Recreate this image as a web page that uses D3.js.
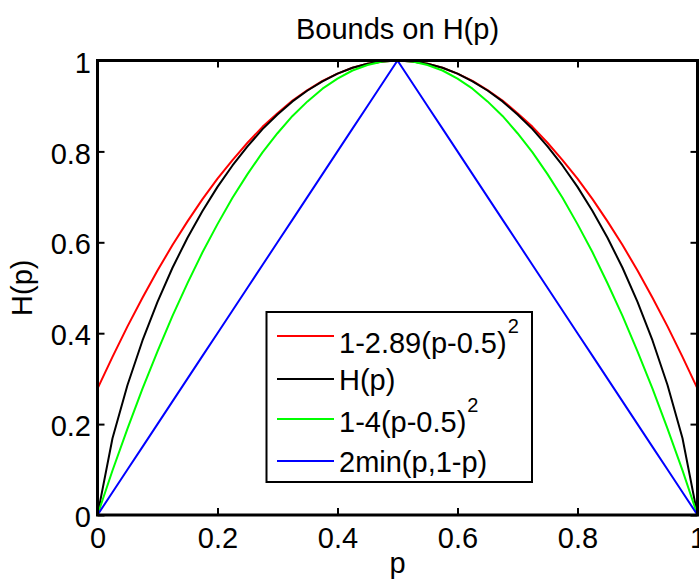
<!DOCTYPE html>
<html>
<head>
<meta charset="utf-8">
<script src="https://cdn.jsdelivr.net/npm/d3@7"></script>
<style>
  body { margin: 0; background: #fff; }
  svg { display: block; font-family: "Liberation Sans", Arial, Helvetica, sans-serif; }
  .axis text { font-size: 29px; fill: #000; }
  .axis line { stroke: #000; stroke-width: 2px; }
  .axis path { display: none; }
</style>
</head>
<body>
<svg id="chart" width="699" height="582"></svg>
<script>
// p values along the x axis
var pVals = [0, 0.025, 0.05, 0.075, 0.1, 0.125, 0.15, 0.175, 0.2, 0.225, 0.25, 0.275, 0.3, 0.325, 0.35, 0.375, 0.4, 0.425, 0.45, 0.475, 0.5,
  0.525, 0.55, 0.575, 0.6, 0.625, 0.65, 0.675, 0.7, 0.725, 0.75, 0.775, 0.8, 0.825, 0.85, 0.875, 0.9, 0.925, 0.95, 0.975, 1];

// series
var redVals = [0.278, 0.348, 0.415, 0.478, 0.538, 0.594, 0.646, 0.695, 0.740, 0.781, 0.819, 0.854, 0.884, 0.912, 0.935, 0.955, 0.971, 0.984, 0.993, 0.998, 1,
  0.998, 0.993, 0.984, 0.971, 0.955, 0.935, 0.912, 0.884, 0.854, 0.819, 0.781, 0.740, 0.695, 0.646, 0.594, 0.538, 0.478, 0.415, 0.348, 0.278];
var blackVals = [0, 0.169, 0.286, 0.384, 0.469, 0.544, 0.610, 0.669, 0.722, 0.769, 0.811, 0.849, 0.881, 0.910, 0.934, 0.954, 0.971, 0.984, 0.993, 0.998, 1,
  0.998, 0.993, 0.984, 0.971, 0.954, 0.934, 0.910, 0.881, 0.849, 0.811, 0.769, 0.722, 0.669, 0.610, 0.544, 0.469, 0.384, 0.286, 0.169, 0];
var greenVals = [0, 0.098, 0.190, 0.278, 0.360, 0.438, 0.510, 0.578, 0.640, 0.698, 0.750, 0.798, 0.840, 0.878, 0.910, 0.938, 0.960, 0.978, 0.990, 0.998, 1,
  0.998, 0.990, 0.978, 0.960, 0.938, 0.910, 0.878, 0.840, 0.798, 0.750, 0.698, 0.640, 0.578, 0.510, 0.438, 0.360, 0.278, 0.190, 0.098, 0];
var blueVals = [0, 0.05, 0.1, 0.15, 0.2, 0.25, 0.3, 0.35, 0.4, 0.45, 0.5, 0.55, 0.6, 0.65, 0.7, 0.75, 0.8, 0.85, 0.9, 0.95, 1,
  0.95, 0.9, 0.85, 0.8, 0.75, 0.7, 0.65, 0.6, 0.55, 0.5, 0.45, 0.4, 0.35, 0.3, 0.25, 0.2, 0.15, 0.1, 0.05, 0];

var seriesNames = [["1-2.89(p-0.5)", "2"], ["H(p)", ""], ["1-4(p-0.5)", "2"], ["2min(p,1-p)", ""]];
var seriesColors = ["#ff0000", "#000000", "#00ff00", "#0000ff"];
var xTicks = [0, 0.2, 0.4, 0.6, 0.8, 1];
var yTicks = [0, 0.2, 0.4, 0.6, 0.8, 1];

var svg = d3.select("#chart");
var axLeft = 97.5, axRight = 697.5, axTop = 60.5, axBottom = 515;

var x = d3.scaleLinear().domain([0, 1]).range([axLeft, axRight]);
var y = d3.scaleLinear().domain([0, 1]).range([axBottom, axTop]);

var series = [redVals, blackVals, greenVals, blueVals];

// curves
var line = d3.line()
  .x(function(d, i) { return x(pVals[i]); })
  .y(function(d) { return y(d); });

series.forEach(function(vals, k) {
  svg.append("path")
    .datum(vals)
    .attr("fill", "none")
    .attr("stroke", seriesColors[k])
    .attr("stroke-width", 2)
    .attr("stroke-linejoin", "round")
    .attr("d", line);
});

// axes, ticks pointing inward
svg.append("g").attr("class", "axis")
  .attr("transform", "translate(0," + axBottom + ")")
  .call(d3.axisBottom(x).tickValues(xTicks).tickFormat(d3.format("")).tickSizeInner(-7).tickSizeOuter(0).tickPadding(12));
svg.append("g").attr("class", "axis")
  .attr("transform", "translate(0," + axTop + ")")
  .call(d3.axisTop(x).tickValues(xTicks).tickFormat("").tickSizeInner(-7).tickSizeOuter(0));
var yg = svg.append("g").attr("class", "axis")
  .attr("transform", "translate(" + axLeft + ",0)")
  .call(d3.axisLeft(y).tickValues(yTicks).tickFormat(d3.format("")).tickSizeInner(-7).tickSizeOuter(0).tickPadding(6.5));
yg.selectAll("text").attr("dy", "0.4em");
svg.append("g").attr("class", "axis")
  .attr("transform", "translate(" + axRight + ",0)")
  .call(d3.axisRight(y).tickValues(yTicks).tickFormat("").tickSizeInner(-7).tickSizeOuter(0));

// box
svg.append("rect")
  .attr("x", axLeft).attr("y", axTop)
  .attr("width", axRight - axLeft).attr("height", axBottom - axTop)
  .attr("fill", "none").attr("stroke", "#000").attr("stroke-width", 3);

// title and axis labels
svg.append("text").attr("x", (axLeft + axRight) / 2).attr("y", 39)
  .attr("text-anchor", "middle").style("font-size", "29px").text("Bounds on H(p)");
svg.append("text").attr("x", (axLeft + axRight) / 2).attr("y", 573)
  .attr("text-anchor", "middle").style("font-size", "29px").text("p");
svg.append("text").attr("transform", "translate(32," + (axTop + axBottom) / 2 + ") rotate(-90)")
  .attr("text-anchor", "middle").style("font-size", "29px").text("H(p)");

// legend
var legendTop = 312, legendLeft = 266.5, legendW = 265.5, legendH = 170;
var legend = svg.append("g");
legend.append("rect")
  .attr("x", legendLeft).attr("y", legendTop)
  .attr("width", legendW).attr("height", legendH)
  .attr("fill", "#fff").attr("stroke", "#000").attr("stroke-width", 2);

var rowLine = [336, 379, 419, 461];
var rowBase = [353, 390, 432, 472];
seriesNames.forEach(function(nm, k) {
  legend.append("line")
    .attr("x1", 277).attr("x2", 334)
    .attr("y1", rowLine[k]).attr("y2", rowLine[k])
    .attr("stroke", seriesColors[k]).attr("stroke-width", 2);
  var t = legend.append("text")
    .attr("x", 339).attr("y", rowBase[k])
    .style("font-size", "29px");
  t.append("tspan").text(nm[0]);
  if (nm[1]) {
    t.append("tspan").attr("dy", -20).attr("dx", 1).style("font-size", "20px").text(nm[1]);
  }
});
</script>
</body>
</html>
